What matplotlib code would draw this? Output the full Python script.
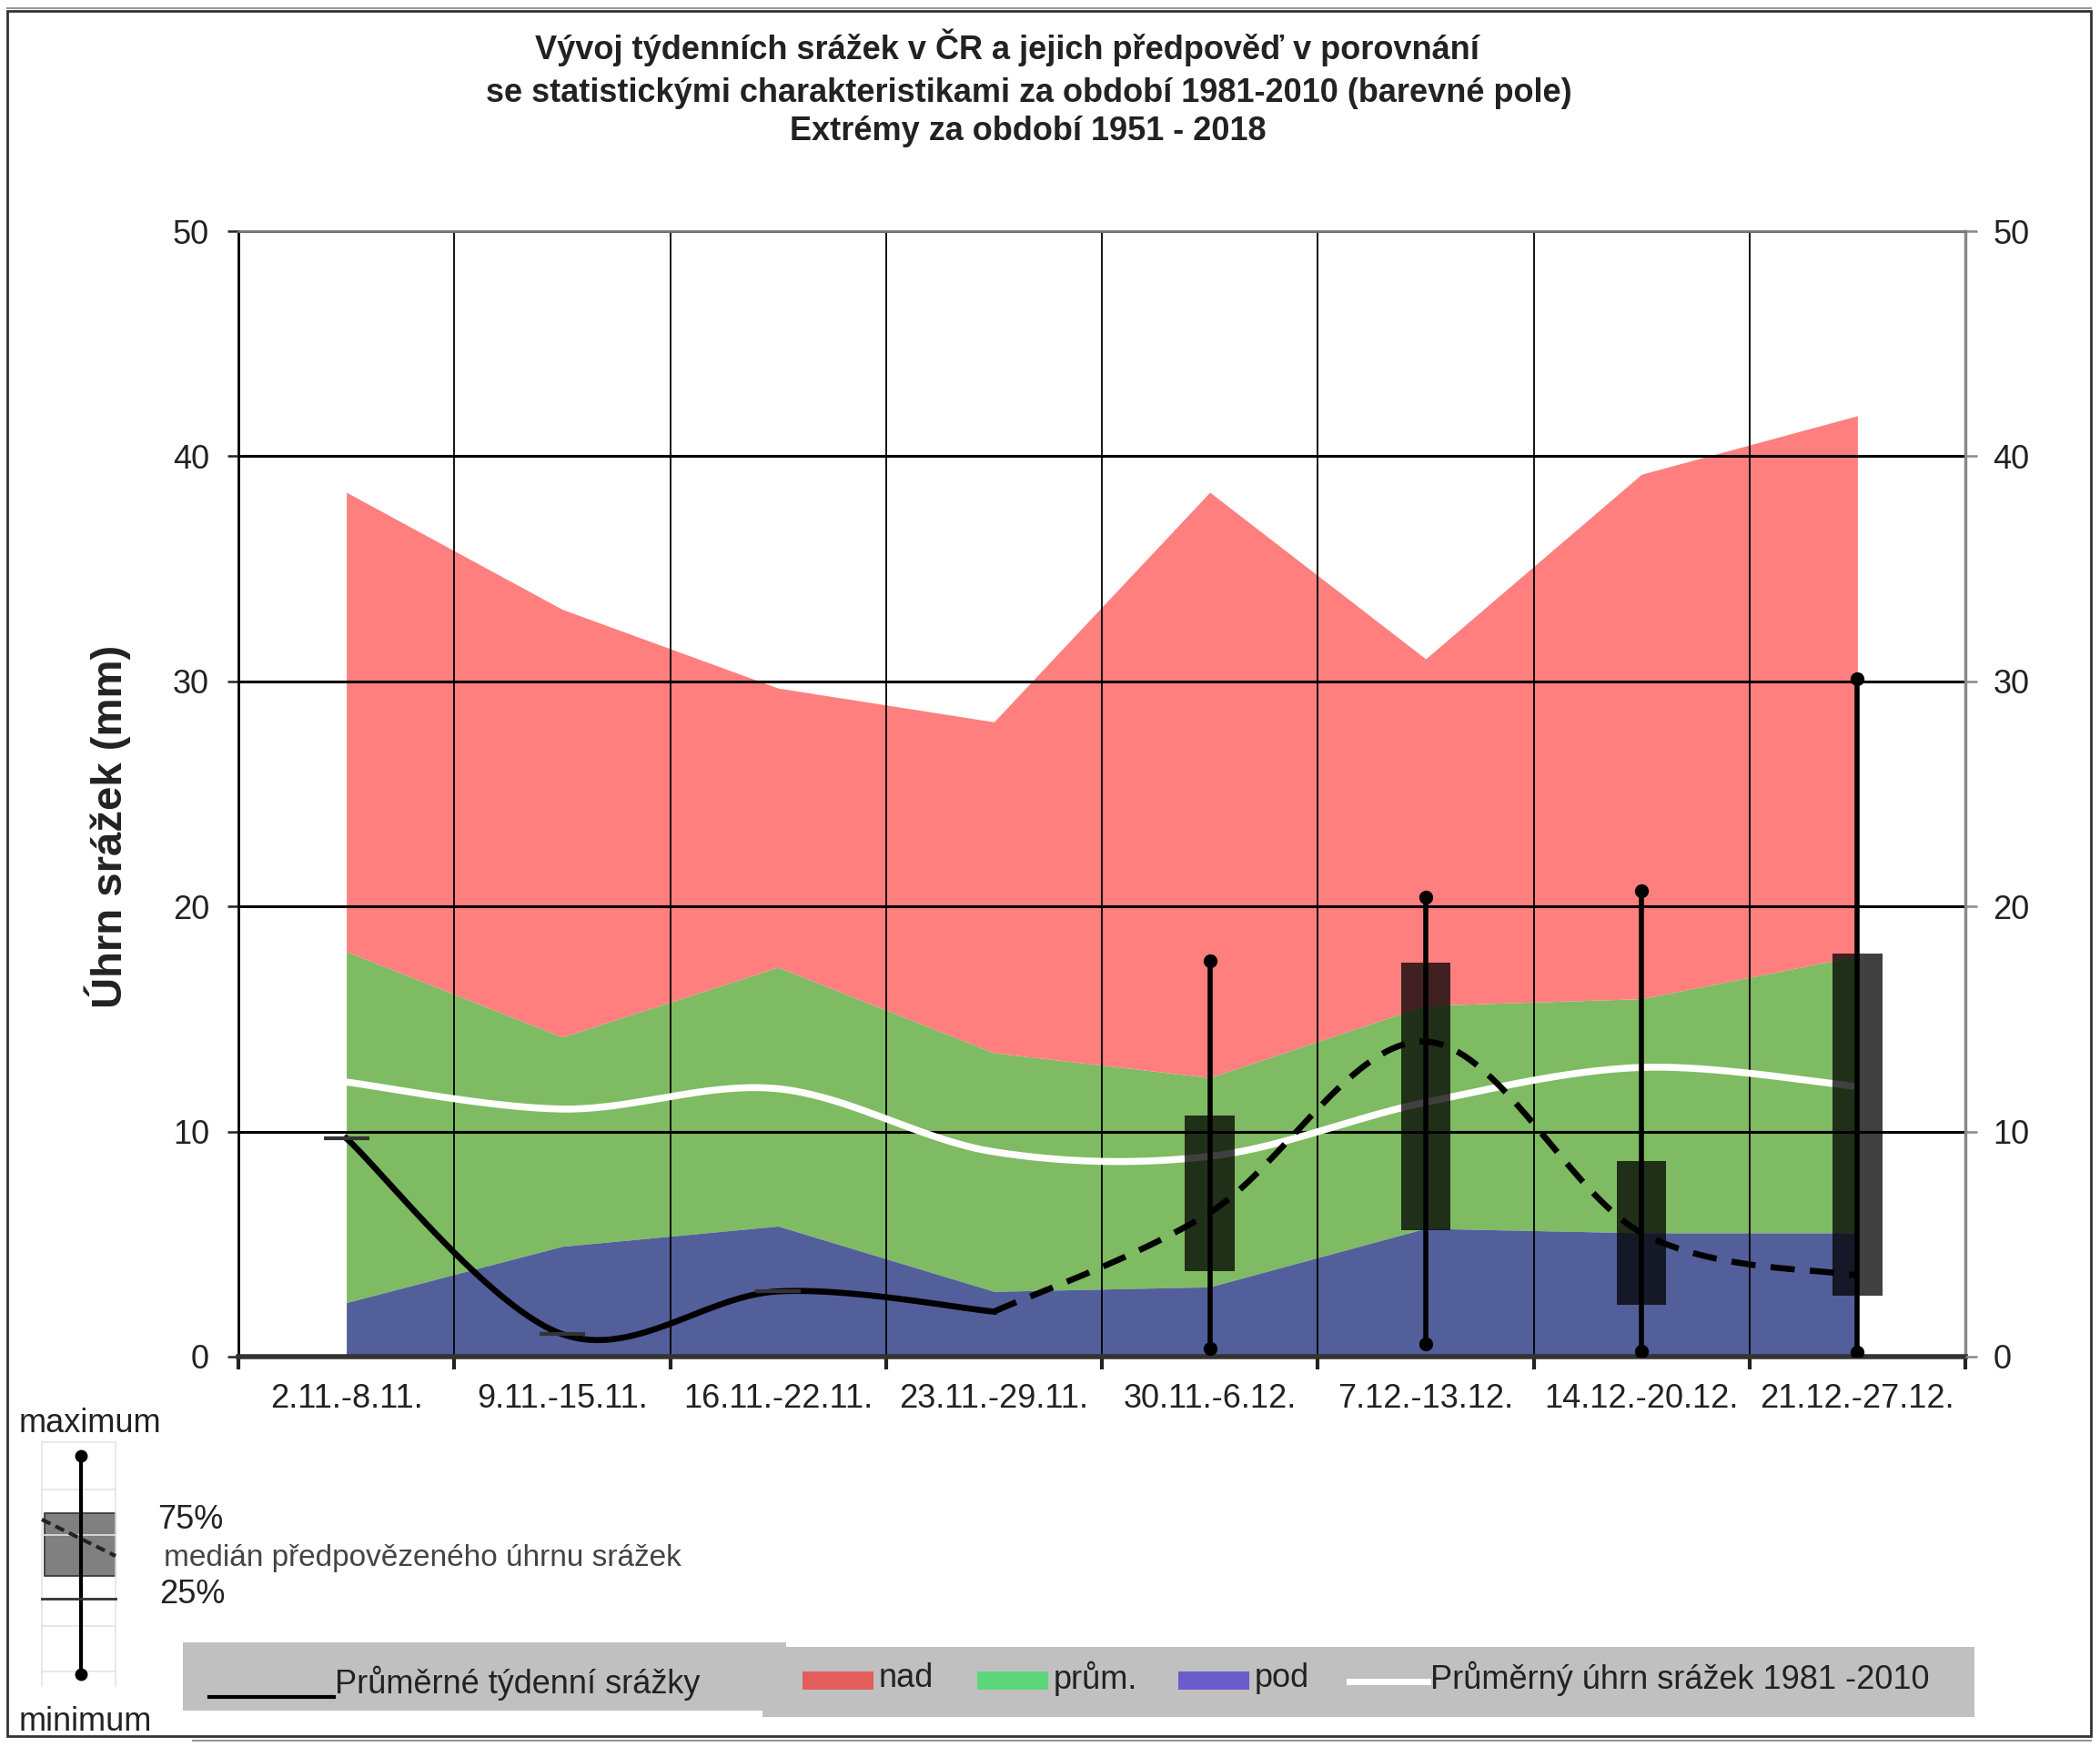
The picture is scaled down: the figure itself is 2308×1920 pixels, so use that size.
import numpy as np
import matplotlib
matplotlib.use('Agg')
import matplotlib.pyplot as plt
from matplotlib.patches import Rectangle

plt.rcParams['font.family'] = ['Liberation Sans', 'DejaVu Sans']

# --- data ---
weeks = ['2.11.-8.11.', '9.11.-15.11.', '16.11.-22.11.', '23.11.-29.11.',
         '30.11.-6.12.', '7.12.-13.12.', '14.12.-20.12.', '21.12.-27.12.']
nad_top = [38.4, 33.2, 29.7, 28.2, 38.4, 31.0, 39.2, 41.8]     # maximum 1951-2018
prum_top = [18.0, 14.2, 17.3, 13.5, 12.4, 15.6, 15.9, 17.8]   # upper limit of normal
pod_top = [2.4, 4.9, 5.8, 2.9, 3.1, 5.7, 5.5, 5.5]            # lower limit of normal
normal = [12.2, 11.0, 11.9, 9.1, 8.9, 11.3, 12.85, 12.0]      # mean 1981-2010
observed = [9.7, 1.0, 2.9, 2.0]          # weeks 1-4
median_fc = [2.0, 6.4, 14.0, 5.5, 3.6]   # weeks 4-8
fc_min = [0.35, 0.55, 0.25, 0.2]         # weeks 5-8
fc_q25 = [3.8, 5.6, 2.3, 2.7]
fc_q75 = [10.7, 17.5, 8.7, 17.9]
fc_max = [17.6, 20.4, 20.7, 30.1]

W, H = 2308, 1920
fig = plt.figure(figsize=(W / 100, H / 100), dpi=100)


def smooth(x, y, n=40):
    # excel-like smoothed line (catmull-rom as bezier)
    px = np.concatenate([[x[0]], x, [x[-1]]]).astype(float)
    py = np.concatenate([[y[0]], y, [y[-1]]]).astype(float)
    t = np.linspace(0, 1, n)
    xs, ys = [], []
    for i in range(1, len(px) - 2):
        x0, x1, x2, x3 = px[i], px[i] + (px[i + 1] - px[i - 1]) / 6, px[i + 1] - (px[i + 2] - px[i]) / 6, px[i + 1]
        y0, y1, y2, y3 = py[i], py[i] + (py[i + 1] - py[i - 1]) / 6, py[i + 1] - (py[i + 2] - py[i]) / 6, py[i + 1]
        a, b, c, d = (1 - t) ** 3, 3 * (1 - t) ** 2 * t, 3 * (1 - t) * t ** 2, t ** 3
        xs.append(a * x0 + b * x1 + c * x2 + d * x3)
        ys.append(a * y0 + b * y1 + c * y2 + d * y3)
    return np.concatenate(xs), np.concatenate(ys)


ax = fig.add_axes([262 / W, 1 - 1491 / H, (2160 - 262) / W, (1491 - 254) / H])
x = np.arange(len(weeks)) + 0.5

ax.fill_between(x, pod_top, prum_top, color='#7FBB62', lw=0, zorder=1)
ax.fill_between(x, prum_top, nad_top, color='#FF7F7F', lw=0, zorder=1)
ax.fill_between(x, 0, pod_top, color='#535F9A', lw=0, zorder=1)

sx, sy = smooth(x, normal)
ax.plot(sx, sy, color='white', lw=5.5, zorder=3, solid_capstyle='butt')

sx, sy = smooth(x[:4], observed)
ax.plot(sx, sy, color='black', lw=4.8, zorder=4)
ax.plot(x[:3], observed[:3], '_', color='#333333', ms=36, mew=3, zorder=4)

sx, sy = smooth(x[3:], median_fc)
ax.plot(sx, sy, color='black', lw=4.8, ls=(0, (4, 2.5)), zorder=4)

xf = x[4:]
ax.bar(xf, np.array(fc_q75) - np.array(fc_q25), bottom=fc_q25, width=0.23,
       color='black', alpha=0.75, lw=0, zorder=5)
ax.vlines(xf, fc_min, fc_max, color='black', lw=4, zorder=6)
ax.plot(xf, fc_min, 'o', color='black', ms=10, zorder=6)
ax.plot(xf, fc_max, 'o', color='black', ms=10, zorder=6)

ax.set_xlim(0, 8)
ax.set_ylim(0, 50)
ax.set_axisbelow('line')
ax.set_xticks(np.arange(9))
ax.set_xticklabels([])
ax.set_xticks(x, minor=True)
ax.set_xticklabels(weeks, minor=True, fontsize=26, color='#222222')
ax.tick_params(axis='x', which='major', direction='out', length=10, width=3, color='#222222')
ax.tick_params(axis='x', which='minor', length=0, pad=21)
ax.set_yticks(np.arange(0, 51, 10))
ax.tick_params(axis='y', direction='out', length=9, width=1.8, color='#222222',
               labelsize=26, labelcolor='#222222', pad=14)
ax.grid(axis='y', color='black', lw=2.2)
ax.grid(axis='x', which='major', color='black', lw=1.3)

ax.spines['left'].set_color('black')
ax.spines['left'].set_linewidth(2)
ax.spines['right'].set_color('#888888')
ax.spines['right'].set_linewidth(2.5)
ax.spines['top'].set_color('#777777')
ax.spines['top'].set_linewidth(2)
ax.spines['bottom'].set_color('#333333')
ax.spines['bottom'].set_linewidth(4)

ax2 = ax.twinx()
ax2.set_ylim(0, 50)
ax2.set_yticks(np.arange(0, 51, 10))
ax2.tick_params(axis='y', direction='out', length=9, width=1.8, color='#888888',
                labelsize=26, labelcolor='#222222', pad=13)
for s in ax2.spines.values():
    s.set_visible(False)

# --- overlay in pixel coordinates: title, frame, legends ---
ov = fig.add_axes([0, 0, 1, 1], facecolor='none')
ov.set_xlim(0, W)
ov.set_ylim(H, 0)
ov.axis('off')

ov.add_patch(Rectangle((8, 12), W - 18, 1896, fill=False, ec='#333333', lw=2))
ov.plot([8, W - 10], [9, 9], color='#999999', lw=1.5)
ov.plot([212, W - 10], [1913, 1913], color='#999999', lw=1.5)

tc = '#222222'
ov.text(1107, 52, 'Vývoj týdenních srážek v ČR a jejich předpověď v porovnání',
        ha='center', va='center', fontsize=26, fontweight='bold', color=tc)
ov.text(1131, 103, 'se statistickými charakteristikami za období 1981-2010 (barevné pole)',
        ha='center', va='center', fontsize=26, fontweight='bold', color=tc)
ov.text(1130, 144, 'Extrémy za období 1951 - 2018',
        ha='center', va='center', fontsize=26, fontweight='bold', color=tc)
ov.text(118, 908, 'Úhrn srážek (mm)', rotation=90, ha='center', va='center',
        fontsize=34, fontweight='bold', color=tc)

# legend bar
ov.add_patch(Rectangle((201, 1805), 663, 75, color='#C0C0C0', lw=0))
ov.add_patch(Rectangle((838, 1810), 1332, 77, color='#C0C0C0', lw=0))
ov.plot([230, 367], [1865, 1865], color='black', lw=3)
ov.text(368, 1850, 'Průměrné týdenní srážky', ha='left', va='center', fontsize=26, color=tc)
for x0, col, lab in [(882, '#E35D5D', 'nad'), (1074, '#5CD77C', 'prům.'), (1295, '#6B5CCB', 'pod')]:
    ov.add_patch(Rectangle((x0, 1837), 78, 20, color=col, lw=0))
    ov.text(x0 + 84, 1845, lab, ha='left', va='center', fontsize=26, color=tc)
ov.plot([1483, 1569], [1848, 1848], color='white', lw=5)
ov.text(1572, 1845, 'Průměrný úhrn srážek 1981 -2010', ha='left', va='center', fontsize=26, color=tc)

# box legend
for yy in [1585, 1637, 1687, 1787, 1837]:
    ov.plot([46, 127], [yy, yy], color='#E4E4E4', lw=1.2)
ov.plot([46, 46], [1585, 1853], color='#E4E4E4', lw=1.2)
ov.plot([127, 127], [1585, 1853], color='#E4E4E4', lw=1.2)
ov.add_patch(Rectangle((49, 1663), 78, 69, fc='#808080', ec='#333333', lw=1.2))
ov.plot([89, 89], [1600, 1840], color='black', lw=3)
ov.plot([89, 89], [1600, 1840], 'o', color='black', ms=9)
ov.plot([46, 127], [1670, 1710], color='#222222', lw=3, ls=(0, (2.5, 1.5)))
ov.plot([46, 127], [1757, 1757], color='#333333', lw=2)
ov.text(21, 1565, 'maximum', ha='left', va='center', fontsize=26, color=tc)
ov.text(21, 1892, 'minimum', ha='left', va='center', fontsize=26, color=tc)
ov.text(173, 1670, '75%', ha='left', va='center', fontsize=26, color=tc)
ov.text(180, 1713, 'medián předpovězeného úhrnu srážek', ha='left', va='center', fontsize=24, color='#444444')
ov.text(175, 1753, '25%', ha='left', va='center', fontsize=26, color=tc)

fig.savefig('out.png', dpi=100)
